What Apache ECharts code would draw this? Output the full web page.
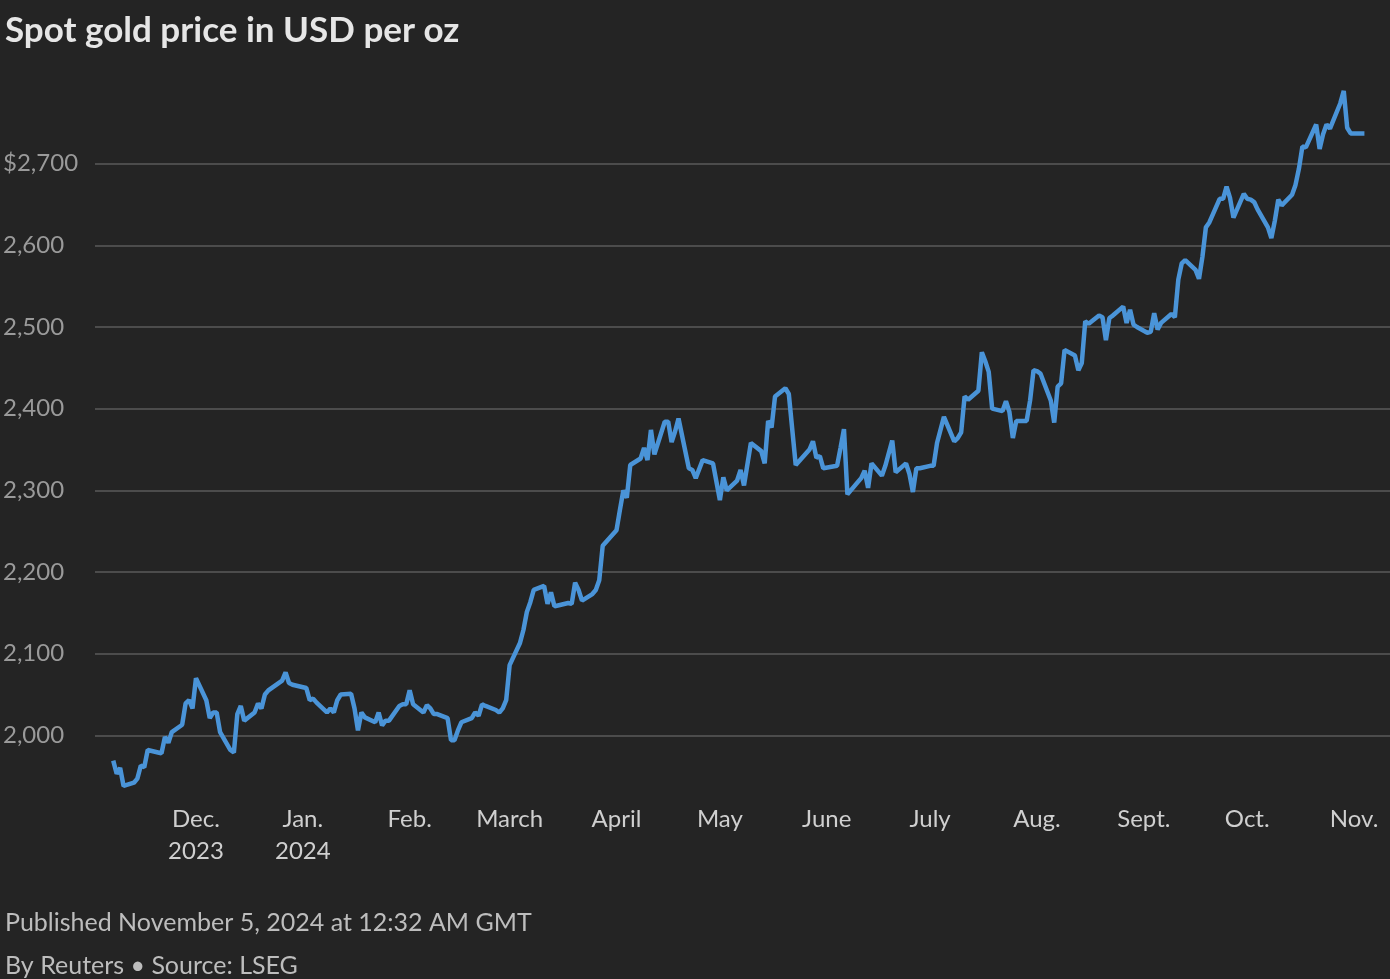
<!DOCTYPE html>
<html>
<head>
<meta charset="utf-8">
<style>html,body{margin:0;padding:0;background:#242424;}#chart{width:1390px;height:979px;}</style>
<script src="https://cdn.jsdelivr.net/npm/echarts@6/dist/echarts.min.js"></script>
</head>
<body>
<div id="chart"></div>
<script>
// spot gold, USD per oz
let dates = ['2023-11-07','2023-11-08','2023-11-09','2023-11-10','2023-11-13','2023-11-14','2023-11-15','2023-11-16','2023-11-17','2023-11-20','2023-11-21','2023-11-22','2023-11-23','2023-11-24','2023-11-27','2023-11-28','2023-11-29','2023-11-30',
  '2023-12-01','2023-12-04','2023-12-05','2023-12-06','2023-12-07','2023-12-08','2023-12-11','2023-12-12','2023-12-13','2023-12-14','2023-12-15','2023-12-18','2023-12-19','2023-12-20','2023-12-21','2023-12-22','2023-12-26','2023-12-27','2023-12-28','2023-12-29',
  '2024-01-02','2024-01-03','2024-01-04','2024-01-05','2024-01-08','2024-01-09','2024-01-10','2024-01-11','2024-01-12','2024-01-15','2024-01-16','2024-01-17','2024-01-18','2024-01-19','2024-01-22','2024-01-23','2024-01-24','2024-01-25','2024-01-26','2024-01-29','2024-01-30','2024-01-31',
  '2024-02-01','2024-02-02','2024-02-05','2024-02-06','2024-02-07','2024-02-08','2024-02-09','2024-02-12','2024-02-13','2024-02-14','2024-02-15','2024-02-16','2024-02-19','2024-02-20','2024-02-21','2024-02-22','2024-02-23','2024-02-26','2024-02-27','2024-02-28','2024-02-29',
  '2024-03-01','2024-03-04','2024-03-05','2024-03-06','2024-03-07','2024-03-08','2024-03-11','2024-03-12','2024-03-13','2024-03-14','2024-03-15','2024-03-18','2024-03-19','2024-03-20','2024-03-21','2024-03-22','2024-03-25','2024-03-26','2024-03-27','2024-03-28',
  '2024-04-01','2024-04-02','2024-04-03','2024-04-04','2024-04-05','2024-04-08','2024-04-09','2024-04-10','2024-04-11','2024-04-12','2024-04-15','2024-04-16','2024-04-17','2024-04-18','2024-04-19','2024-04-22','2024-04-23','2024-04-24','2024-04-26','2024-04-29',
  '2024-05-01','2024-05-02','2024-05-03','2024-05-06','2024-05-07','2024-05-08','2024-05-10','2024-05-13','2024-05-14','2024-05-15','2024-05-16','2024-05-17','2024-05-20','2024-05-21','2024-05-23','2024-05-27','2024-05-28','2024-05-29','2024-05-30','2024-05-31',
  '2024-06-04','2024-06-05','2024-06-06','2024-06-07','2024-06-10','2024-06-11','2024-06-12','2024-06-13','2024-06-14','2024-06-17','2024-06-18','2024-06-20','2024-06-21','2024-06-24','2024-06-25','2024-06-26','2024-06-27','2024-06-28',
  '2024-07-01','2024-07-02','2024-07-03','2024-07-05','2024-07-08','2024-07-09','2024-07-10','2024-07-11','2024-07-12','2024-07-15','2024-07-16','2024-07-17','2024-07-18','2024-07-19','2024-07-22','2024-07-23','2024-07-24','2024-07-25','2024-07-26','2024-07-29','2024-07-30','2024-07-31',
  '2024-08-01','2024-08-02','2024-08-05','2024-08-06','2024-08-07','2024-08-08','2024-08-09','2024-08-12','2024-08-13','2024-08-14','2024-08-15','2024-08-16','2024-08-19','2024-08-20','2024-08-21','2024-08-22','2024-08-23','2024-08-26','2024-08-27','2024-08-28','2024-08-29','2024-08-30',
  '2024-09-02','2024-09-03','2024-09-04','2024-09-05','2024-09-06','2024-09-09','2024-09-10','2024-09-11','2024-09-12','2024-09-13','2024-09-16','2024-09-17','2024-09-18','2024-09-19','2024-09-20','2024-09-23','2024-09-24','2024-09-25','2024-09-26','2024-09-27','2024-09-30',
  '2024-10-01','2024-10-02','2024-10-03','2024-10-04','2024-10-07','2024-10-08','2024-10-09','2024-10-10','2024-10-11','2024-10-14','2024-10-15','2024-10-16','2024-10-17','2024-10-18','2024-10-21','2024-10-22','2024-10-23','2024-10-24','2024-10-25','2024-10-28','2024-10-29','2024-10-30','2024-10-31',
  '2024-11-01','2024-11-04','2024-11-05']
let prices = [1969,1953,1960,1938,1942,1947,1963,1961,1982,1979,1978,1998,1991,2004,2013,2039,2043,2033,
  2070,2043,2021,2028,2028,2004,1982,1979,2026,2036,2018,2028,2039,2033,2050,2055,2067,2077,2064,2062,
  2058,2043,2045,2040,2028,2033,2028,2043,2050,2051,2033,2006,2028,2022,2016,2028,2012,2018,2018,2036,2038,2038,
  2055,2038,2028,2037,2033,2026,2026,2021,1994,1994,2006,2016,2021,2028,2024,2038,2036,2031,2028,2033,2043,
  2086,2113,2129,2151,2163,2178,2183,2161,2175,2158,2159,2162,2161,2187,2178,2165,2173,2178,2190,2232,
  2251,2276,2300,2291,2331,2339,2352,2337,2374,2344,2384,2384,2359,2372,2388,2327,2325,2315,2337,2333,
  2288,2316,2300,2312,2325,2306,2358,2348,2333,2385,2377,2415,2425,2418,2331,2350,2360,2340,2342,2327,
  2330,2352,2375,2295,2310,2315,2324,2303,2333,2318,2330,2361,2322,2333,2320,2298,2327,2327,
  2330,2330,2358,2390,2360,2364,2371,2415,2411,2422,2469,2458,2445,2400,2397,2409,2396,2364,2385,2385,2410,2447,
  2446,2443,2410,2383,2427,2431,2472,2465,2447,2456,2507,2504,2514,2512,2484,2511,2514,2525,2505,2521,2503,
  2500,2493,2494,2517,2497,2505,2516,2512,2558,2578,2582,2570,2559,2586,2622,2628,2657,2657,2672,2658,2634,
  2663,2657,2656,2653,2644,2622,2609,2630,2656,2649,2662,2674,2694,2721,2720,2748,2718,2736,2748,2743,2774,2789,2744,
  2737,2737,2737]
let monthTicks = ['2023-12-01','2024-01-01','2024-02-01','2024-03-01','2024-04-01','2024-05-01','2024-06-01','2024-07-01','2024-08-01','2024-09-01','2024-10-01','2024-11-01']
let monthLabels = ['Dec.\n2023','Jan.\n2024','Feb.','March','April','May','June','July','Aug.','Sept.','Oct.','Nov.']
let yTicks = [2000, 2100, 2200, 2300, 2400, 2500, 2600, 2700]

let font = 'Lato, "Noto Sans", sans-serif'
let toTime = d => new Date(d + 'T00:00:00Z').getTime()
let tickTimes = monthTicks.map(toTime)
let chart = echarts.init(document.getElementById('chart'))
chart.setOption({
  backgroundColor: '#242424',
  animation: false,
  title: [
    {text: 'Spot gold price in USD per oz', left: 0, top: 8, textStyle: {color: '#e6e6e6', fontSize: 35, fontWeight: 'bold', fontFamily: font}},
    {text: 'Published November 5, 2024 at 12:32 AM GMT', left: 0, top: 905, textStyle: {color: '#bdbdbd', fontSize: 25, fontWeight: 'normal', fontFamily: font}},
    {text: 'By Reuters • Source: LSEG', left: 0, top: 948, textStyle: {color: '#bdbdbd', fontSize: 25, fontWeight: 'normal', fontFamily: font}}
  ],
  grid: {left: 92, right: 0, top: 82, bottom: 979 - 817},
  xAxis: {
    type: 'value',
    min: Date.UTC(2023, 10, 1, 17),
    max: Date.UTC(2024, 10, 11, 10),
    offset: -14,
    axisLine: {show: false},
    axisTick: {show: false},
    splitLine: {show: false},
    axisLabel: {
      customValues: tickTimes,
      margin: 0,
      color: '#cfcfcf',
      fontSize: 24,
      lineHeight: 32,
      fontFamily: font,
      formatter: v => monthLabels[tickTimes.indexOf(v)] || ''
    }
  },
  yAxis: {
    type: 'value',
    min: 1900,
    max: 2800,
    interval: 100,
    axisLine: {show: false},
    axisTick: {show: false},
    splitLine: {showMinLine: false, showMaxLine: false, lineStyle: {color: '#5a5a5a', width: 1.5}},
    axisLabel: {
      align: 'left',
      margin: 92,
      color: '#9a9a9a',
      fontSize: 24,
      fontFamily: font,
      formatter: v => yTicks.indexOf(v) < 0 ? '' : (v === 2700 ? '$' : '') + v.toLocaleString('en-US')
    }
  },
  series: [{
    type: 'line',
    data: dates.map((d, i) => [toTime(d), prices[i]]),
    showSymbol: false,
    lineStyle: {color: '#4a94d8', width: 4.5},
    itemStyle: {color: '#4a94d8'}
  }]
})
</script>
</body>
</html>
